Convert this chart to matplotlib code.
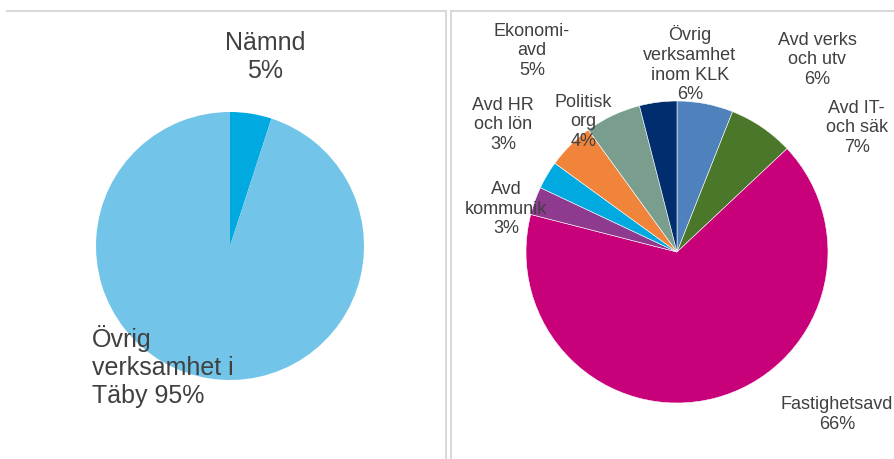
import matplotlib
matplotlib.use("Agg")
from matplotlib import pyplot as plt

plt.rcParams['font.family'] = ['Liberation Sans', 'DejaVu Sans']

######################## data ########################
left_labels = ["Nämnd", "Övrig verksamhet i Täby"]
left_values = [5, 95]
left_colors = ["#00A9E0", "#72C5E8"]

right_labels = ["Avd verks och utv", "Avd IT- och säk", "Fastighetsavd", "Avd kommunik",
                "Avd HR och lön", "Ekonomi-avd", "Övrig verksamhet inom KLK", "Politisk org"]
right_values = [6, 7, 66, 3, 3, 5, 6, 4]
right_colors = ["#4F81BD", "#4A7729", "#C8007A", "#8E3A8E",
                "#00A9E0", "#F0843A", "#7A9E8E", "#002D6E"]

# label text as shown in the chart (line breaks) and where it sits
left_text = ["Nämnd\n5%", "Övrig\nverksamhet i\nTäby 95%"]
left_pos = [(0.26, 1.42, 'center'), (-1.03, -0.89, 'left')]
right_text = ["Avd verks\noch utv\n6%", "Avd IT-\noch säk\n7%", "Fastighetsavd\n66%",
              "Avd\nkommunik\n3%", "Avd HR\noch lön\n3%", "Ekonomi-\navd\n5%",
              "Övrig\nverksamhet\ninom KLK\n6%", "Politisk\norg\n4%"]
right_pos = [(0.93, 1.28), (1.19, 0.83), (1.06, -1.07), (-1.13, 0.29),
             (-1.15, 0.85), (-0.96, 1.34), (0.086, 1.25), (-0.62, 0.87)]

W, H = 894, 460
fig = plt.figure(figsize=(W / 100, H / 100), dpi=100)

def px_axes(x0, y0, x1, y1):
    # pixel box (top-left origin) -> figure axes
    return fig.add_axes([x0 / W, (H - y1) / H, (x1 - x0) / W, (y1 - y0) / H])

border = "#D9D9D9"
# panel frames
p1 = px_axes(7, 12, 446, 475)
p2 = px_axes(451, 12, 910, 475)
for p, sides in ((p1, ('top', 'right')), (p2, ('top', 'left'))):
    p.set_xticks([]); p.set_yticks([])
    p.patch.set_alpha(0)
    for s in p.spines:
        p.spines[s].set_visible(s in sides)
        p.spines[s].set_color(border)
        p.spines[s].set_linewidth(1.5)

txt = "#404040"

######################## left pie ########################
cx, cy, r = 230, 247, 134
ax1 = px_axes(cx - r, cy - r, cx + r, cy + r)
ax1.pie(left_values, colors=left_colors, startangle=90, counterclock=False, radius=1)
ax1.set_xlim(-1, 1); ax1.set_ylim(-1, 1)
ax1.axis('off')
for t, (x, y, ha) in zip(left_text, left_pos):
    ax1.text(x, y, t, ha=ha, va='center', fontsize=18, color=txt, clip_on=False)

######################## right pie ########################
cx, cy, r = 677, 253, 151
ax2 = px_axes(cx - r, cy - r, cx + r, cy + r)
ax2.pie(right_values, colors=right_colors, startangle=90, counterclock=False, radius=1,
        wedgeprops=dict(edgecolor='white', linewidth=0.4))
ax2.set_xlim(-1, 1); ax2.set_ylim(-1, 1)
ax2.axis('off')
for t, (x, y) in zip(right_text, right_pos):
    ax2.text(x, y, t, ha='center', va='center', fontsize=13, color=txt, clip_on=False)

plt.savefig('out.png', dpi=100)
